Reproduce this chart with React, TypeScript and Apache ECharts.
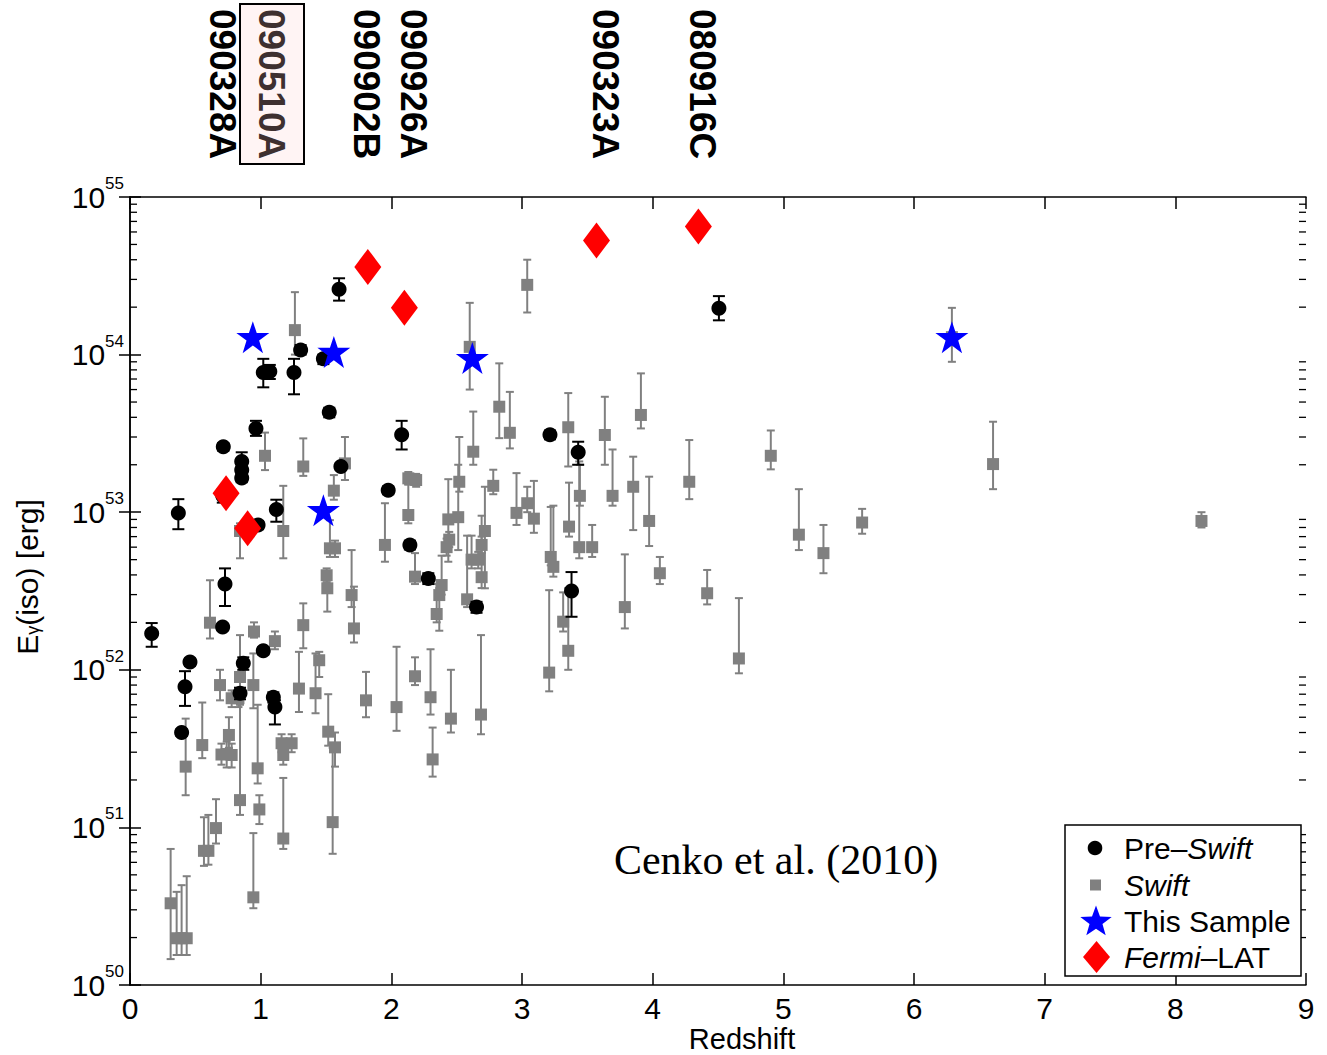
import React, { useEffect, useRef } from 'react';
import * as echarts from 'echarts';

// ---------------- data ----------------
// [redshift, E_iso (erg), lower error, upper error]
const preSwift: number[][] = [
  [1.60, 2.6e54, 2.2e54, 3.05e54],
  [1.02, 7.7e53, 6.2e53, 9.4e53],
  [1.07, 7.8e53, 7.0e53, 8.6e53],
  [1.255, 7.7e53, 5.6e53, 9.4e53],
  [1.306, 1.07e54, 1.0e54, 1.15e54],
  [1.48, 9.4e53, 8.7e53, 1.0e54],
  [1.525, 4.3e53, 4.0e53, 4.6e53],
  [0.964, 3.4e53, 3.05e53, 3.8e53],
  [0.714, 2.6e53, 2.45e53, 2.75e53],
  [0.855, 2.1e53, 1.9e53, 2.4e53],
  [0.855, 1.85e53, 1.75e53, 1.95e53],
  [0.855, 1.65e53, 1.55e53, 1.75e53],
  [2.079, 3.1e53, 2.5e53, 3.8e53],
  [0.37, 9.9e52, 7.8e52, 1.21e53],
  [0.71, 1.27e53, 1.15e53, 1.4e53],
  [0.98, 8.3e52, 7.8e52, 8.8e52],
  [1.12, 1.04e53, 8.7e52, 1.2e53],
  [0.727, 3.5e52, 2.54e52, 4.4e52],
  [0.709, 1.87e52, 1.78e52, 1.96e52],
  [0.166, 1.7e52, 1.4e52, 1.98e52],
  [0.459, 1.12e52, 1.06e52, 1.18e52],
  [0.421, 7.8e51, 5.9e51, 9.8e51],
  [1.02, 1.32e52, 1.25e52, 1.39e52],
  [0.867, 1.1e52, 1.0e52, 1.2e52],
  [0.842, 7.1e51, 6.5e51, 7.7e51],
  [1.097, 6.7e51, 6.2e51, 7.2e51],
  [1.109, 5.8e51, 4.5e51, 6.4e51],
  [0.395, 4.0e51, 3.8e51, 4.2e51],
  [1.976, 1.38e53, 1.3e53, 1.46e53],
  [2.142, 6.2e52, 5.8e52, 6.6e52],
  [2.283, 3.8e52, 3.5e52, 4.1e52],
  [2.652, 2.5e52, 2.3e52, 2.7e52],
  [3.379, 3.16e52, 2.17e52, 4.17e52],
  [3.214, 3.1e53, 2.9e53, 3.3e53],
  [3.43, 2.4e53, 2.0e53, 2.8e53],
  [4.507, 1.97e54, 1.65e54, 2.35e54],
  [1.614, 1.95e53, 1.85e53, 2.05e53],
];

const swift: number[][] = [
  [1.262, 1.43e54, 1.0e54, 2.49e54],
  [1.033, 2.28e53, 1.85e53, 3.2e53],
  [1.326, 1.95e53, 1.7e53, 2.94e53],
  [1.645, 2.04e53, 1.6e53, 3.0e53],
  [0.426, 2.43e51, 1.6e51, 4.9e51],
  [0.553, 3.33e51, 2.75e51, 6.2e51],
  [0.757, 3.86e51, 3.2e51, 5.0e51],
  [0.74, 2.92e51, 2.4e51, 3.5e51],
  [0.70, 2.9e51, 2.5e51, 3.4e51],
  [0.778, 2.88e51, 2.4e51, 3.4e51],
  [0.842, 1.49e51, 1.2e51, 6.0e51],
  [0.977, 2.37e51, 1.9e51, 6.0e51],
  [0.99, 1.3e51, 1.05e51, 1.6e51],
  [1.16, 3.42e51, 3.0e51, 3.9e51],
  [1.173, 2.88e51, 2.5e51, 3.3e51],
  [1.237, 3.42e51, 3.0e51, 3.9e51],
  [1.173, 8.5e50, 7.3e50, 2.06e51],
  [1.517, 4.05e51, 3.3e51, 7.0e51],
  [1.569, 3.22e51, 2.43e51, 4.0e51],
  [1.551, 1.08e51, 6.8e50, 3.2e51],
  [0.311, 3.3e50, 1.46e50, 7.3e50],
  [0.357, 1.98e50, 1.55e50, 3.9e50],
  [0.395, 1.98e50, 1.55e50, 4.3e50],
  [0.434, 1.98e50, 1.55e50, 4.9e50],
  [0.566, 7.1e50, 5.7e50, 1.16e51],
  [0.60, 7.1e50, 5.8e50, 1.2e51],
  [0.658, 9.9e50, 7.9e50, 1.51e51],
  [0.944, 3.6e50, 3.07e50, 9.2e50],
  [1.56, 1.37e53, 1.2e53, 1.72e53],
  [1.173, 7.6e52, 5.1e52, 1.47e53],
  [0.842, 7.6e52, 5.1e52, 8.5e52],
  [1.53, 5.9e52, 5.2e52, 8.9e52],
  [1.569, 5.9e52, 5.2e52, 6.6e52],
  [1.505, 3.98e52, 3.6e52, 4.4e52],
  [1.51, 3.29e52, 2.34e52, 3.7e52],
  [1.696, 2.98e52, 2.5e52, 5.75e52],
  [1.714, 1.83e52, 1.49e52, 3.37e52],
  [0.612, 1.99e52, 1.58e52, 3.7e52],
  [1.326, 1.92e52, 1.37e52, 2.64e52],
  [0.949, 1.75e52, 1.6e52, 2.0e52],
  [1.109, 1.52e52, 1.35e52, 1.75e52],
  [1.448, 1.15e52, 9.0e51, 1.3e52],
  [0.689, 8.0e51, 6.4e51, 1.0e52],
  [0.842, 9.0e51, 7.5e51, 1.66e52],
  [0.944, 8.0e51, 5.7e51, 1.27e52],
  [0.778, 6.6e51, 5.8e51, 7.4e51],
  [0.83, 6.6e51, 5.8e51, 7.4e51],
  [1.293, 7.6e51, 5.4e51, 1.3e52],
  [1.42, 7.1e51, 5.3e51, 1.27e52],
  [1.806, 6.4e51, 5.0e51, 9.7e51],
  [2.04, 5.8e51, 4.1e51, 1.4e52],
  [2.181, 9.1e51, 8.0e51, 1.2e52],
  [1.951, 6.2e52, 4.85e52, 1.14e53],
  [2.13, 9.6e52, 8.5e52, 1.5e53],
  [2.13, 1.64e53, 1.5e53, 1.8e53],
  [2.19, 1.6e53, 1.45e53, 1.75e53],
  [2.181, 3.9e52, 3.5e52, 5.5e52],
  [3.04, 2.77e54, 1.85e54, 4.0e54],
  [2.60, 1.12e54, 6.0e53, 2.13e54],
  [2.826, 4.67e53, 2.95e53, 8.8e53],
  [2.907, 3.19e53, 2.54e53, 5.8e53],
  [3.354, 3.46e53, 1.95e53, 5.7e53],
  [3.634, 3.09e53, 2.0e53, 5.4e53],
  [3.91, 4.14e53, 3.4e53, 7.6e53],
  [2.627, 2.42e53, 2.0e53, 4.35e53],
  [2.52, 1.56e53, 1.35e53, 3.0e53],
  [2.78, 1.47e53, 1.3e53, 1.86e53],
  [2.436, 9.0e52, 4.85e52, 1.62e53],
  [2.512, 9.3e52, 5.75e52, 2.0e53],
  [2.443, 6.7e52, 6.0e52, 7.5e52],
  [2.423, 6.0e52, 5.3e52, 6.8e52],
  [2.716, 7.6e52, 3.29e52, 1.45e53],
  [2.691, 6.2e52, 5.5e52, 7.0e52],
  [2.614, 5.0e52, 4.4e52, 7.1e52],
  [2.665, 5.0e52, 4.4e52, 5.6e52],
  [2.691, 3.87e52, 3.3e52, 9.5e52],
  [2.385, 3.45e52, 3.0e52, 5.3e52],
  [2.367, 2.98e52, 1.77e52, 3.3e52],
  [2.347, 2.26e52, 2.0e52, 3.5e52],
  [2.58, 2.8e52, 2.5e52, 7.1e52],
  [2.958, 9.9e52, 8.3e52, 1.77e53],
  [3.04, 1.14e53, 1.0e53, 1.45e53],
  [3.091, 9.1e52, 7.4e52, 1.58e53],
  [3.22, 5.2e52, 4.6e52, 1.08e53],
  [3.24, 4.5e52, 3.9e52, 1.1e53],
  [3.36, 8.1e52, 7.0e52, 1.54e53],
  [3.438, 6.0e52, 5.1e52, 2.1e53],
  [3.537, 6.0e52, 5.2e52, 8.3e52],
  [3.443, 1.27e53, 1.1e53, 2.0e53],
  [3.693, 1.27e53, 1.1e53, 2.5e53],
  [3.851, 1.45e53, 7.7e52, 2.25e53],
  [3.973, 8.8e52, 6.1e52, 1.68e53],
  [4.28, 1.56e53, 1.21e53, 2.87e53],
  [4.055, 4.1e52, 3.5e52, 5.2e52],
  [4.417, 3.06e52, 2.6e52, 4.3e52],
  [3.787, 2.5e52, 1.83e52, 5.4e52],
  [3.315, 2.02e52, 1.75e52, 3.1e52],
  [3.354, 1.32e52, 1.0e52, 3.3e52],
  [3.208, 9.6e51, 7.3e51, 3.2e52],
  [2.3, 6.7e51, 5.2e51, 1.35e52],
  [2.456, 4.9e51, 4.0e51, 1.0e52],
  [2.686, 5.2e51, 3.9e51, 1.66e52],
  [2.316, 2.7e51, 2.1e51, 4.3e51],
  [4.904, 2.28e53, 1.87e53, 3.3e53],
  [6.605, 2.02e53, 1.4e53, 3.75e53],
  [5.119, 7.2e52, 5.75e52, 1.4e53],
  [5.307, 5.5e52, 4.1e52, 8.3e52],
  [5.603, 8.6e52, 7.3e52, 1.05e53],
  [4.66, 1.18e52, 9.5e51, 2.85e52],
  [8.2, 8.8e52, 8.0e52, 1.0e53],
  [6.29, 1.29e54, 9.0e53, 1.98e54],
];

// [redshift, E_iso]
const thisSample: number[][] = [
  [0.94, 1.29e54],
  [1.56, 1.04e54],
  [1.48, 1.03e53],
  [2.62, 9.5e53],
  [6.29, 1.29e54],
];

const fermiLAT: number[][] = [
  [0.735, 1.32e53],
  [0.9, 7.9e52],
  [1.82, 3.6e54],
  [2.1, 1.98e54],
  [3.57, 5.3e54],
  [4.35, 6.5e54],
];

const grbNames = ['090328A', '090510A', '090902B', '090926A', '090323A', '080916C'];
const highlightedGrb = '090510A';

const xMin = 0;
const xMax = 9;
const yMin = 1e50;
const yMax = 1e55;
const decades = [50, 51, 52, 53, 54];
const minorFactors = [2, 3, 4, 5, 6, 7, 8, 9];

const legendItems = [
  { parts: [['n', 'Pre–'], ['i', 'Swift']] },
  { parts: [['i', 'Swift']] },
  { parts: [['n', 'This Sample']] },
  { parts: [['i', 'Fermi'], ['n', '–LAT']] },
];

// ---------------- layout (pixels) ----------------
const FONT = '"Liberation Sans", Arial, Helvetica, sans-serif';
const GRID = { left: 130, top: 197, right: 21, bottom: 70 };
const LABEL_X = [222, 271, 366, 413, 605, 702];
const STAR_PATH =
  'path://M50,0 L61.8,35.4 L100,35.4 L69.1,57.3 L80.9,95.1 L50,72 L19.1,95.1 L30.9,57.3 L0,35.4 L38.2,35.4 Z';

function starPoints(cx: number, cy: number, R: number, r: number) {
  const pts: number[][] = [];
  for (let k = 0; k < 10; k++) {
    const a = -Math.PI / 2 + (k * Math.PI) / 5;
    const rad = k % 2 === 0 ? R : r;
    pts.push([cx + rad * Math.cos(a), cy + rad * Math.sin(a)]);
  }
  return pts;
}

function errorBarSeries(name: string, data: number[][], color: string, capW: number, lw: number, z: number) {
  return {
    type: 'custom',
    name,
    data,
    z,
    silent: true,
    encode: { x: 0, y: 1 },
    renderItem: (_params: any, api: any) => {
      const x = api.value(0);
      const lo = api.value(2);
      const hi = api.value(3);
      const top = api.coord([x, hi]);
      const bot = api.coord([x, lo]);
      const style = { stroke: color, lineWidth: lw };
      return {
        type: 'group',
        children: [
          { type: 'line', shape: { x1: top[0], y1: top[1], x2: bot[0], y2: bot[1] }, style },
          { type: 'line', shape: { x1: top[0] - capW / 2, y1: top[1], x2: top[0] + capW / 2, y2: top[1] }, style },
          { type: 'line', shape: { x1: bot[0] - capW / 2, y1: bot[1], x2: bot[0] + capW / 2, y2: bot[1] }, style },
        ],
      };
    },
  };
}

export default function App() {
  const ref = useRef<HTMLDivElement>(null);

  useEffect(() => {
    document.body.style.margin = '0';
    const chart = echarts.init(ref.current!, null, { renderer: 'svg' });

    const minorTickData: number[][] = [];
    decades.forEach((d) => minorFactors.forEach((f) => minorTickData.push([xMin, f * Math.pow(10, d)])));

    const axisLineStyle = { color: '#000', width: 1.5 };
    const tickStyle = { color: '#000', width: 1.5 };

    const rowY = [848, 885, 921, 957];
    const legendRich = {
      n: { fontSize: 30, fontFamily: FONT, fill: '#000', color: '#000' },
      i: { fontSize: 30, fontFamily: FONT, fontStyle: 'italic', fill: '#000', color: '#000' },
    };
    const legendGraphics: any[] = [
      {
        type: 'rect',
        shape: { x: 1065, y: 825, width: 236, height: 151 },
        style: { fill: '#fff', stroke: '#000', lineWidth: 1.5 },
        z: 100,
      },
      { type: 'circle', shape: { cx: 1095, cy: rowY[0], r: 7.3 }, style: { fill: '#000' }, z: 101 },
      { type: 'rect', shape: { x: 1090, y: rowY[1] - 5.5, width: 11, height: 11 }, style: { fill: '#808080' }, z: 101 },
      { type: 'polygon', shape: { points: starPoints(1096, rowY[2] + 1, 16.5, 6.8) }, style: { fill: '#0000ff' }, z: 101 },
      {
        type: 'polygon',
        shape: { points: [[1096.5, rowY[3] - 16], [1110, rowY[3]], [1096.5, rowY[3] + 16], [1083, rowY[3]]] },
        style: { fill: '#ff0000' },
        z: 101,
      },
      ...legendItems.map((it, i) => ({
        type: 'text',
        x: 1124,
        y: rowY[i],
        z: 101,
        style: {
          text: it.parts.map((p) => `{${p[0]}|${p[1]}}`).join(''),
          rich: legendRich,
          fontSize: 30,
          fontFamily: FONT,
          align: 'left',
          verticalAlign: 'middle',
          textAlign: 'left',
          textVerticalAlign: 'middle',
        },
      })),
    ];

    const labelGraphics: any[] = [
      {
        type: 'rect',
        shape: { x: 240, y: 4, width: 64, height: 160 },
        style: { fill: '#fff4f4', stroke: '#000', lineWidth: 2 },
        z: 10,
      },
      ...grbNames.map((n, i) => ({
        type: 'text',
        x: LABEL_X[i],
        y: 9,
        rotation: -Math.PI / 2,
        z: 11,
        style: {
          text: n,
          font: `bold 37px ${FONT}`,
          fill: n === highlightedGrb ? '#3e3030' : '#000',
          align: 'left',
          verticalAlign: 'middle',
          textAlign: 'left',
          textVerticalAlign: 'middle',
        },
      })),
      {
        type: 'text',
        x: 776,
        y: 860,
        z: 50,
        style: {
          text: 'Cenko et al. (2010)',
          font: '42px "Liberation Serif", "Times New Roman", serif',
          fill: '#000',
          align: 'center',
          verticalAlign: 'middle',
          textAlign: 'center',
          textVerticalAlign: 'middle',
        },
      },
    ];

    const option: any = {
      animation: false,
      backgroundColor: '#fff',
      textStyle: { fontFamily: FONT },
      grid: { ...GRID, containLabel: false, outerBoundsMode: 'none' },
      xAxis: [
        {
          type: 'value',
          position: 'bottom',
          min: xMin,
          max: xMax,
          interval: 1,
          axisLine: { show: true, lineStyle: axisLineStyle },
          axisTick: { show: true, inside: true, length: 12, lineStyle: tickStyle },
          axisLabel: { fontSize: 30, lineHeight: 30, color: '#000', margin: 8, fontFamily: FONT },
          splitLine: { show: false },
          name: 'Redshift',
          nameLocation: 'middle',
          nameGap: 39,
          nameMoveOverlap: false,
          nameTextStyle: {
            fontSize: 29,
            lineHeight: 29,
            color: '#000',
            fontFamily: FONT,
            padding: [0, 0, 0, 48],
          },
        },
        {
          type: 'value',
          position: 'top',
          min: xMin,
          max: xMax,
          interval: 1,
          axisLine: { show: true, lineStyle: axisLineStyle },
          axisTick: { show: true, inside: true, length: 12, lineStyle: tickStyle },
          axisLabel: { show: false },
          splitLine: { show: false },
        },
      ],
      yAxis: [
        {
          type: 'log',
          logBase: 10,
          position: 'left',
          min: yMin,
          max: yMax,
          splitNumber: 5,
          axisLine: { show: true, lineStyle: axisLineStyle },
          axisTick: { show: true, inside: true, length: 11, lineStyle: tickStyle },
          axisLabel: {
            margin: 6,
            formatter: (v: number) => `{b|10}{s|${Math.round(Math.log10(v))}}`,
            rich: {
              b: { fontSize: 30, lineHeight: 44, color: '#000', fontFamily: FONT },
              s: { fontSize: 17, lineHeight: 17, color: '#000', fontFamily: FONT, verticalAlign: 'top' },
            },
          },
          splitLine: { show: false },
          name: '{n|E}{g|γ}{n|(iso) [erg]}',
          nameLocation: 'middle',
          nameRotate: 90,
          nameGap: 88,
          nameMoveOverlap: false,
          nameTextStyle: {
            padding: [0, 0, 0, 28],
            rich: {
              n: { fontSize: 30, color: '#000', fontFamily: FONT },
              g: { fontSize: 18, color: '#000', fontFamily: FONT, verticalAlign: 'bottom' },
            },
          },
        },
        {
          type: 'log',
          logBase: 10,
          position: 'right',
          min: yMin,
          max: yMax,
          splitNumber: 5,
          axisLine: { show: true, lineStyle: axisLineStyle },
          axisTick: { show: true, inside: true, length: 11, lineStyle: tickStyle },
          axisLabel: { show: false },
          splitLine: { show: false },
        },
      ],
      series: [
        {
          type: 'custom',
          name: 'minorTicks',
          data: minorTickData,
          silent: true,
          clip: false,
          z: 1,
          encode: { x: 0, y: 1 },
          renderItem: (_p: any, api: any) => {
            const v = api.value(1);
            const l = api.coord([xMin, v]);
            const r = api.coord([xMax, v]);
            const st = { stroke: '#000', lineWidth: 1.3 };
            return {
              type: 'group',
              children: [
                { type: 'line', shape: { x1: l[0], y1: l[1], x2: l[0] + 7, y2: l[1] }, style: st },
                { type: 'line', shape: { x1: r[0] - 7, y1: r[1], x2: r[0], y2: r[1] }, style: st },
              ],
            };
          },
        },
        errorBarSeries('Swift err', swift, '#808080', 8, 2, 2),
        {
          type: 'scatter',
          name: 'Swift',
          data: swift.map((d) => [d[0], d[1]]),
          symbol: 'rect',
          symbolSize: 12,
          itemStyle: { color: '#808080', opacity: 1 },
          z: 3,
          silent: true,
        },
        errorBarSeries('Pre-Swift err', preSwift, '#000000', 12, 2, 4),
        {
          type: 'scatter',
          name: 'Pre-Swift',
          data: preSwift.map((d) => [d[0], d[1]]),
          symbol: 'circle',
          symbolSize: 15,
          itemStyle: { color: '#000', opacity: 1 },
          z: 5,
          silent: true,
        },
        {
          type: 'scatter',
          name: 'This Sample',
          data: thisSample,
          symbol: STAR_PATH,
          symbolSize: [33, 32],
          itemStyle: { color: '#0000ff', opacity: 1 },
          z: 6,
          silent: true,
        },
        {
          type: 'scatter',
          name: 'Fermi-LAT',
          data: fermiLAT,
          symbol: 'diamond',
          symbolSize: [27, 36],
          itemStyle: { color: '#ff0000', opacity: 1 },
          z: 7,
          silent: true,
        },
      ],
      graphic: [...labelGraphics, ...legendGraphics],
    };

    chart.setOption(option);
    return () => chart.dispose();
  }, []);

  return <div ref={ref} style={{ width: 1327, height: 1055 }} />;
}
